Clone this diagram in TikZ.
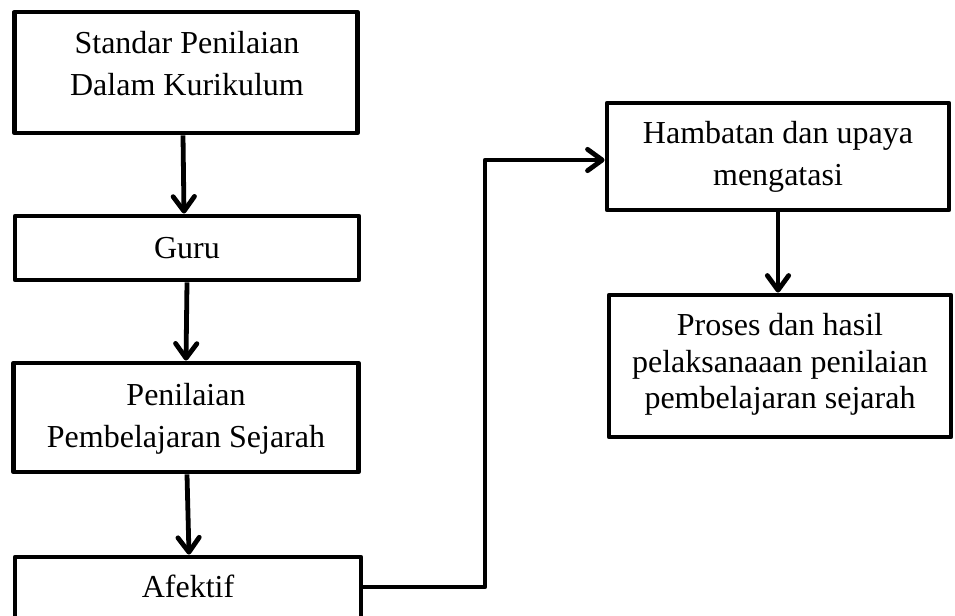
\documentclass[tikz,border=0pt]{standalone}
\usepackage{fontspec}
\setmainfont{Liberation Serif}
\usetikzlibrary{arrows.meta}
\begin{document}
\begin{tikzpicture}[x=0.75pt,y=-0.75pt,
  box/.style={draw=black, line width=3.6pt, fill=white, inner sep=0pt, line join=round},
  txt/.style={anchor=base, inner sep=0pt, font=\fontsize{24}{28}\selectfont},
  arr/.style={line width=3.6pt, line join=round,
    -{Straight Barb[length=11pt,width=16pt,line cap=round,line join=round]}},
  link/.style={line width=3.6pt, line join=round}]
\useasboundingbox (0,0) rectangle (955,615);
% boxes
\node[box, minimum width=343*0.75pt, minimum height=121*0.75pt] (b1) at (186,72.5) {};
\node[box, minimum width=344*0.75pt, minimum height=64*0.75pt] (b2) at (187,248) {};
\node[box, minimum width=345*0.75pt, minimum height=109*0.75pt] (b3) at (186,417.5) {};
\node[box, minimum width=346*0.75pt, minimum height=66*0.75pt] (b4) at (188,590) {};
\node[box, minimum width=342*0.75pt, minimum height=107*0.75pt] (b5) at (778,156.5) {};
\node[box, minimum width=342*0.75pt, minimum height=142*0.75pt] (b6) at (780,366) {};
% texts
\node[txt] (t1a) at (187,53) {Standar Penilaian};
\node[txt] (t1b) at (187,95) {Dalam Kurikulum};
\node[txt] (t2) at (187,258) {Guru};
\node[txt] (t3a) at (186,405) {Penilaian};
\node[txt] (t3b) at (186,447) {Pembelajaran Sejarah};
\node[txt] (t4) at (188,597) {Afektif};
\node[txt] (t5a) at (778,143) {Hambatan dan upaya};
\node[txt] (t5b) at (778,185) {mengatasi};
\node[txt] (t6a) at (780,335) {Proses dan hasil};
\node[txt] (t6b) at (780,372) {pelaksanaaan penilaian};
\node[txt] (t6c) at (780,408) {pembelajaran sejarah};
% connectors
\draw[arr] ([xshift=-3*0.75pt]b1.south) -- ([xshift=-3*0.75pt]b2.north);
\draw[arr] (b2.south) -- (b3.north);
\draw[arr] ([xshift=1*0.75pt]b3.south) -- ([xshift=1*0.75pt]b4.north);
\coordinate (k) at (485,587);
\coordinate (k2) at (485,160);
\draw[arr] (b4.east |- k) -- (k) -- (k2) -- (b5.west |- k2);
\draw[arr] (b5.south) -- (b5.south |- b6.north);
\end{tikzpicture}
\end{document}
